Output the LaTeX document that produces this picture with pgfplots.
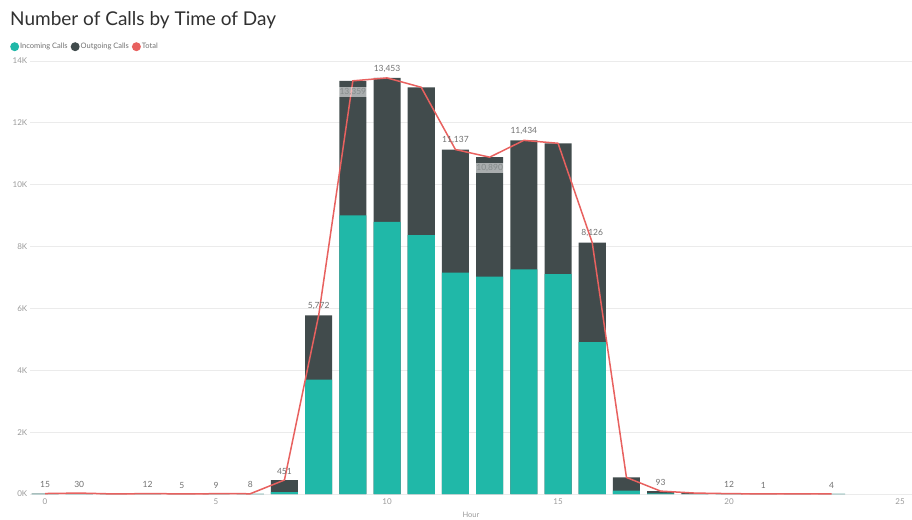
\documentclass[border=0pt]{standalone}
\usepackage{pgfplots}
\pgfplotsset{compat=1.18}
\usepackage{pgfplotstable}
\usepackage{fontspec}
\setmainfont{Lato}
\definecolor{incol}{HTML}{20B8A8}
\definecolor{outcol}{HTML}{414B4C}
\definecolor{totcol}{HTML}{E8615F}
\definecolor{gridcol}{HTML}{EBEBEB}
\definecolor{tickcol}{HTML}{9A9A9A}
\definecolor{labcol}{HTML}{707070}
\definecolor{titlecol}{HTML}{303030}
\definecolor{boxtext}{HTML}{858B8B}

\pgfplotstableread{
h in tot
0 5 15
1 10 30
2 1 2
3 4 12
4 2 5
5 3 9
6 3 8
7 60 451
8 3700 5772
9 9010 13359
10 8800 13453
11 8370 13150
12 7160 11137
13 7030 10890
14 7260 11434
15 7110 11340
16 4910 8126
17 110 535
18 20 93
19 8 30
20 4 12
21 0 1
22 1 3
23 1 4
}\calls

\pgfplotstableread{
h tot lab
0 15 15
1 30 30
3 12 12
4 5 5
5 9 9
6 8 8
7 451 451
8 5772 5,772
10 13453 13,453
12 11137 11,137
14 11434 11,434
16 8126 8,126
18 93 93
20 12 12
21 1 1
23 4 4
}\labup

\pgfplotstableread{
h tot lab
9 13359 13,359
13 10890 10,890
}\labdown

\begin{document}
\begin{tikzpicture}
\useasboundingbox (0pt,0pt) rectangle (912pt,519pt);
\node[anchor=base west, font=\fontsize{19}{22}\selectfont, text=titlecol, inner sep=0pt] at (10pt,493pt) {Number of Calls by Time of Day};
\begin{axis}[
  at={(30pt,25pt)}, anchor=south west,
  scale only axis, width=882pt, height=433pt,
  xmin=-0.44, xmax=25.35, ymin=0, ymax=14000,
  ytick={0,2000,4000,6000,8000,10000,12000,14000},
  yticklabels={0K,2K,4K,6K,8K,10K,12K,14K},
  xtick={0,5,10,15,20,25},
  xticklabels={0,5,10,15,20,25},
  scaled y ticks=false, scaled x ticks=false,
  ymajorgrids, grid style={draw=gridcol, line width=0.8pt},
  axis line style={draw=none}, major tick length=0pt,
  tick label style={font=\fontsize{8}{9}\selectfont, text=tickcol},
  yticklabel style={inner sep=2.5pt},
  xticklabel style={inner sep=5pt},
  xlabel={Hour},
  xlabel style={font=\fontsize{7.5}{9}\selectfont, text=tickcol, yshift=1pt},
  clip=false,
  legend image code/.code={\fill[#1] (0pt,0pt) circle (4.5pt);},
  legend style={at={(-0.0227,1.033)}, anchor=west, draw=none, fill=none,
    font=\fontsize{7.5}{9}\selectfont, text=labcol, inner sep=0pt,
    nodes={inner sep=1pt},
    /tikz/every even column/.append style={column sep=2pt}},
  legend columns=3,
]
\addlegendimage{fill=incol, draw=none}
\addlegendentry{Incoming Calls}
\addlegendimage{fill=outcol, draw=none}
\addlegendentry{Outgoing Calls}
\addlegendimage{fill=totcol, draw=none}
\addlegendentry{Total}

\addplot[ybar, bar width=0.79, bar shift=0pt, fill=outcol, draw=none, forget plot] table[x=h, y=tot] {\calls};
\addplot[ybar, bar width=0.79, bar shift=0pt, fill=incol, draw=none, forget plot] table[x=h, y=in] {\calls};

\addplot[draw=none, mark=none, forget plot, nodes near coords, point meta=explicit symbolic,
  nodes near coords style={anchor=north, yshift=-5.5pt, font=\fontsize{8.5}{9}\selectfont, text=boxtext, fill=white, fill opacity=0.55, text opacity=1, inner xsep=1pt, inner ysep=1.5pt}]
  table[x=h, y=tot, meta=lab] {\labdown};

\addplot[sharp plot, mark=none, color=totcol, line width=1.5pt, forget plot] table[x=h, y=tot] {\calls};

\addplot[draw=none, mark=none, forget plot, nodes near coords, point meta=explicit symbolic,
  nodes near coords style={anchor=south, yshift=4.5pt, font=\fontsize{8.5}{9}\selectfont, text=labcol, inner sep=1pt}]
  table[x=h, y=tot, meta=lab] {\labup};
\end{axis}
\end{tikzpicture}
\end{document}
